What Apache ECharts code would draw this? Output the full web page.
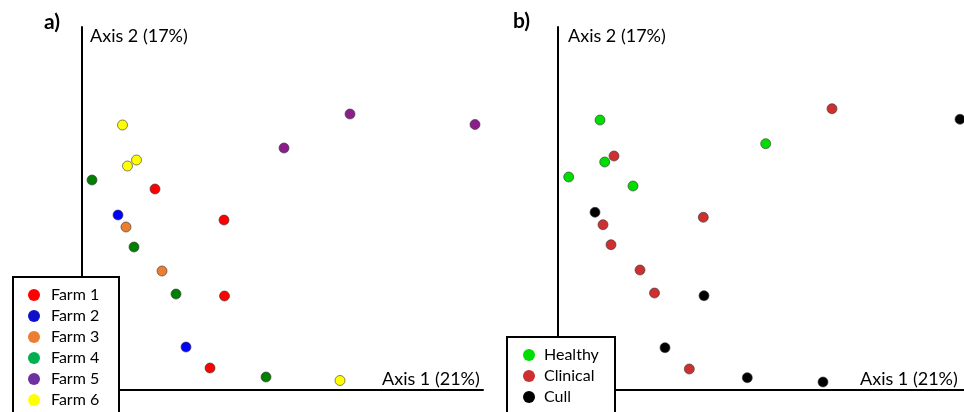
<!DOCTYPE html>
<html><head><meta charset="utf-8">
<script src="https://cdn.jsdelivr.net/npm/echarts@6/dist/echarts.min.js"></script>
<style>html,body{margin:0;padding:0;background:#fff}#c{width:964px;height:412px}</style>
</head><body><div id="c"></div>
<script>
// Panel a) points by farm: [Axis 1 score, Axis 2 score] (arbitrary ordination units)
const farm1 = [[73,201],[142,170],[142.5,94],[128,22]];
const farm2 = [[36,175],[104,43]];
const farm3 = [[44,163],[80,119]];
const farm4 = [[10,210],[52,143],[94,96],[184,13]];
const farm5 = [[202,242],[268,276],[393,265.5]];
const farm6 = [[40.5,265],[45.5,224],[54.5,230],[258,9.5]];
// Panel b) points by status
const healthy = [[42,270],[46.7,228],[10.7,213],[75,204],[207.7,246.3]];
const clinical = [[56,234],[145.3,172.7],[45,165.3],[53,145.3],[82,120],[96.5,97],[131.3,21],[274,281.3]];
const cull = [[37,177.7],[146,94.3],[107,42.3],[189.3,12.3],[265,8],[402,270.7]];

const farmNames = ['Farm 1','Farm 2','Farm 3','Farm 4','Farm 5','Farm 6'];
const statusNames = ['Healthy','Clinical','Cull'];
const axis1Label = 'Axis 1 (21%)';
const axis2Label = 'Axis 2 (17%)';
const panelLabels = ['a)','b)'];

const farmData = [farm1, farm2, farm3, farm4, farm5, farm6];
const farmPointColors = ['#FF0000','#0000FF','#ED7D31','#008000','#8B1E8B','#FFFF00'];
const farmLegendColors = ['#FF0000','#1010CC','#ED7D31','#00B050','#7030A0','#FFFF00'];
const statusData = [healthy, clinical, cull];
const statusColors = ['#00DD00','#CC3030','#000000'];

const font = 'Lato, "Open Sans", sans-serif';
const chart = echarts.init(document.getElementById('c'), null, {renderer:'canvas'});

const axisCommon = {
  type:'value', axisLine:{show:true, onZero:false, lineStyle:{color:'#000', width:2}},
  axisTick:{show:false}, axisLabel:{show:false}, splitLine:{show:false}
};

const series = [];
farmNames.forEach((n,i)=>series.push({
  name:n, type:'scatter', xAxisIndex:0, yAxisIndex:0, data:farmData[i], symbolSize:10,
  itemStyle:{color:farmPointColors[i], borderColor:'rgba(60,60,60,0.8)', borderWidth:0.8, opacity:1},
  emphasis:{disabled:true}
}));
statusNames.forEach((n,i)=>series.push({
  name:n, type:'scatter', xAxisIndex:1, yAxisIndex:1, data:statusData[i], symbolSize:10,
  itemStyle:{color:statusColors[i], borderColor:'rgba(60,60,60,0.8)', borderWidth:0.8, opacity:1},
  emphasis:{disabled:true}
}));

const txt = (x,y,s,extra)=>Object.assign({type:'text', x:x, y:y, z:10,
  style:Object.assign({text:s, font:'18px '+font, fill:'#000', textVerticalAlign:'middle'}, extra||{})});

chart.setOption({
  animation:false,
  backgroundColor:'#fff',
  grid:[
    {left:82, top:27, width:401, height:363},
    {left:558, top:27, width:406, height:363}
  ],
  xAxis:[
    Object.assign({gridIndex:0, min:0, max:401}, axisCommon),
    Object.assign({gridIndex:1, min:0, max:406}, axisCommon)
  ],
  yAxis:[
    Object.assign({gridIndex:0, min:0, max:363}, axisCommon),
    Object.assign({gridIndex:1, min:0, max:363}, axisCommon)
  ],
  legend:[
    {orient:'vertical', left:23, top:282, height:200, itemWidth:24, itemHeight:12, itemGap:5, icon:'circle', z:20,
     selectedMode:false,
     itemStyle:{borderWidth:0},
     textStyle:{fontFamily:font, fontSize:16, lineHeight:16, color:'#000'},
     data:farmNames.map((n,i)=>({name:n, itemStyle:{color:farmLegendColors[i], borderWidth:0}}))},
    {orient:'vertical', left:518, top:342, height:200, itemWidth:20, itemHeight:12, itemGap:5, icon:'circle', z:20,
     selectedMode:false,
     itemStyle:{borderWidth:0},
     textStyle:{fontFamily:font, fontSize:16, lineHeight:16, color:'#000'},
     data:statusNames.map((n,i)=>({name:n, itemStyle:{color:statusColors[i], borderWidth:0}}))}
  ],
  graphic:[
    {type:'rect', z:15, shape:{x:13, y:277, width:106, height:200}, style:{fill:'#fff', stroke:'#000', lineWidth:2}},
    {type:'rect', z:15, shape:{x:507, y:337, width:108, height:200}, style:{fill:'#fff', stroke:'#000', lineWidth:2}},
    txt(44,22,panelLabels[0],{font:'bold 21px '+font}),
    txt(513,21,panelLabels[1],{font:'bold 21px '+font}),
    txt(90,36,axis2Label),
    txt(568,36,axis2Label),
    txt(382,379,axis1Label),
    txt(860,379,axis1Label)
  ],
  series:series
});
</script></body></html>
